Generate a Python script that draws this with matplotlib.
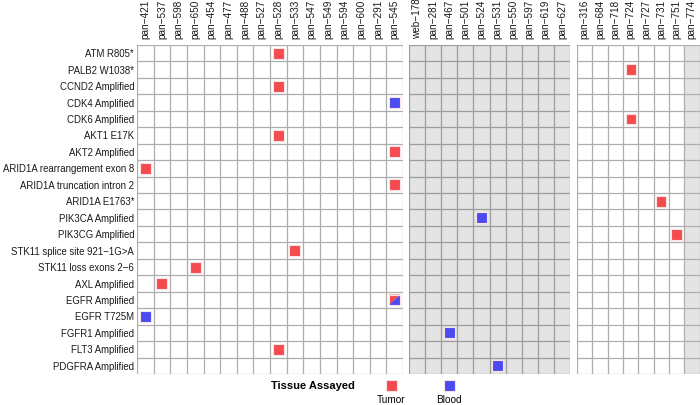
import matplotlib.pyplot as plt
from matplotlib.patches import Rectangle, Polygon

plt.rcParams['font.family'] = ['Liberation Sans', 'DejaVu Sans']

# ---- data ----
genes = ["ATM R805*", "PALB2 W1038*", "CCND2 Amplified", "CDK4 Amplified",
         "CDK6 Amplified", "AKT1 E17K", "AKT2 Amplified",
         "ARID1A rearrangement exon 8", "ARID1A truncation intron 2",
         "ARID1A E1763*", "PIK3CA Amplified", "PIK3CG Amplified",
         "STK11 splice site 921\u22121G>A", "STK11 loss exons 2\u22126",
         "AXL Amplified", "EGFR Amplified", "EGFR T725M", "FGFR1 Amplified",
         "FLT3 Amplified", "PDGFRA Amplified"]

panel1 = ["pan\u2212421", "pan\u2212537", "pan\u2212598", "pan\u2212650",
          "pan\u2212454", "pan\u2212477", "pan\u2212488", "pan\u2212527",
          "pan\u2212528", "pan\u2212533", "pan\u2212547", "pan\u2212549",
          "pan\u2212594", "pan\u2212600", "pan\u2212291", "pan\u2212545"]
panel2 = ["web\u2212178", "pan\u2212281", "pan\u2212467", "pan\u2212501",
          "pan\u2212524", "pan\u2212531", "pan\u2212550", "pan\u2212597",
          "pan\u2212619", "pan\u2212627"]
panel3 = ["pan\u2212316", "pan\u2212684", "pan\u2212718", "pan\u2212724",
          "pan\u2212727", "pan\u2212731", "pan\u2212751", "pan\u2212774"]

mark_gene = ["ATM R805*", "PALB2 W1038*", "CCND2 Amplified", "CDK4 Amplified",
             "CDK6 Amplified", "AKT1 E17K", "AKT2 Amplified",
             "ARID1A rearrangement exon 8", "ARID1A truncation intron 2",
             "ARID1A E1763*", "PIK3CA Amplified", "PIK3CG Amplified",
             "STK11 splice site 921\u22121G>A", "STK11 loss exons 2\u22126",
             "AXL Amplified", "EGFR Amplified", "EGFR T725M",
             "FGFR1 Amplified", "FLT3 Amplified", "PDGFRA Amplified"]
mark_sample = ["pan\u2212528", "pan\u2212724", "pan\u2212528", "pan\u2212545",
               "pan\u2212724", "pan\u2212528", "pan\u2212545", "pan\u2212421",
               "pan\u2212545", "pan\u2212731", "pan\u2212524", "pan\u2212751",
               "pan\u2212533", "pan\u2212650", "pan\u2212537", "pan\u2212545",
               "pan\u2212421", "pan\u2212467", "pan\u2212528", "pan\u2212531"]
mark_tissue = ["Tumor", "Tumor", "Tumor", "Blood", "Tumor", "Tumor", "Tumor",
               "Tumor", "Tumor", "Tumor", "Blood", "Tumor", "Tumor", "Tumor",
               "Tumor", "Both", "Blood", "Blood", "Tumor", "Blood"]

tissue_colors = {"Tumor": "#F44B4E", "Blood": "#4B4BF2"}

W, H = 700, 405
fig = plt.figure(figsize=(W / 100, H / 100), dpi=100)


def px_axes(x0, x1, y0, y1):
    return fig.add_axes([x0 / W, 1 - y1 / H, (x1 - x0) / W, (y1 - y0) / H])


top, bottom = 45, 374
panels = [
    (panel1, 137, 403, "white", []),
    (panel2, 409, 570, "#E4E4E4", []),
    (panel3, 577, 699.5, "white", ["pan\u2212774"]),
]

fs = 7.2
half = 0.33
for i, (cols, x0, x1, bg, grey_cols) in enumerate(panels):
    ax = px_axes(x0, x1, top, bottom)
    ax.set_facecolor(bg)
    ax.set_xlim(-0.5, len(cols) - 0.5)
    ax.set_ylim(len(genes) - 0.5, -0.5)
    for c in grey_cols:
        ci = cols.index(c)
        ax.add_patch(Rectangle((ci - 0.5, -0.5), 1, len(genes),
                               facecolor="#E4E4E4", edgecolor="none", zorder=0))
    line_col = "#ADADAD" if bg == "white" else "#9C9C9C"
    for k in range(len(cols) + 1):
        ax.axvline(k - 0.5, color=line_col, lw=0.9, zorder=1)
    for k in range(len(genes) + 1):
        ax.axhline(k - 0.5, color=line_col, lw=0.9, zorder=1)
    for s in ax.spines.values():
        s.set_visible(False)

    ax.xaxis.tick_top()
    ax.set_xticks(range(len(cols)))
    ax.set_xticklabels(cols, rotation=90, fontsize=fs, color="#1A1A1A")
    ax.tick_params(axis="x", length=0, pad=4)
    if i == 0:
        ax.set_yticks(range(len(genes)))
        ax.set_yticklabels(genes, fontsize=6.95, color="#1A1A1A")
        ax.tick_params(axis="y", length=0, pad=2)
    else:
        ax.set_yticks([])

    for g, smp, t in zip(mark_gene, mark_sample, mark_tissue):
        if smp not in cols:
            continue
        cx, cy = cols.index(smp), genes.index(g)
        if t == "Both":
            ax.add_patch(Polygon([(cx - half, cy - half), (cx + half, cy - half),
                                  (cx - half, cy + half)],
                                 facecolor=tissue_colors["Tumor"], edgecolor="none", zorder=3))
            ax.add_patch(Polygon([(cx + half, cy - half), (cx + half, cy + half),
                                  (cx - half, cy + half)],
                                 facecolor=tissue_colors["Blood"], edgecolor="none", zorder=3))
            ax.add_patch(Rectangle((cx - half, cy - half), 2 * half, 2 * half,
                                   facecolor="none", edgecolor="#FBE3E3", lw=0.8, zorder=4))
        else:
            ax.add_patch(Rectangle((cx - half, cy - half), 2 * half, 2 * half,
                                   facecolor=tissue_colors[t], edgecolor="#FBE3E3",
                                   lw=0.8, zorder=3))

# ---- legend ----
fig.text(313 / W, 1 - 386 / H, "Tissue Assayed", fontsize=8, fontweight="bold",
         ha="center", va="center")
for name, cx in [("Tumor", 391), ("Blood", 449)]:
    sq = 11
    fig.add_artist(Rectangle(((cx - sq / 2) / W, 1 - 391 / H), sq / W, sq / H,
                             transform=fig.transFigure, facecolor=tissue_colors[name],
                             edgecolor="#FBE3E3", lw=0.8))
    fig.text(cx / W, 1 - 400 / H, name, fontsize=fs, ha="center", va="center")

fig.savefig("out.png", dpi=100)
